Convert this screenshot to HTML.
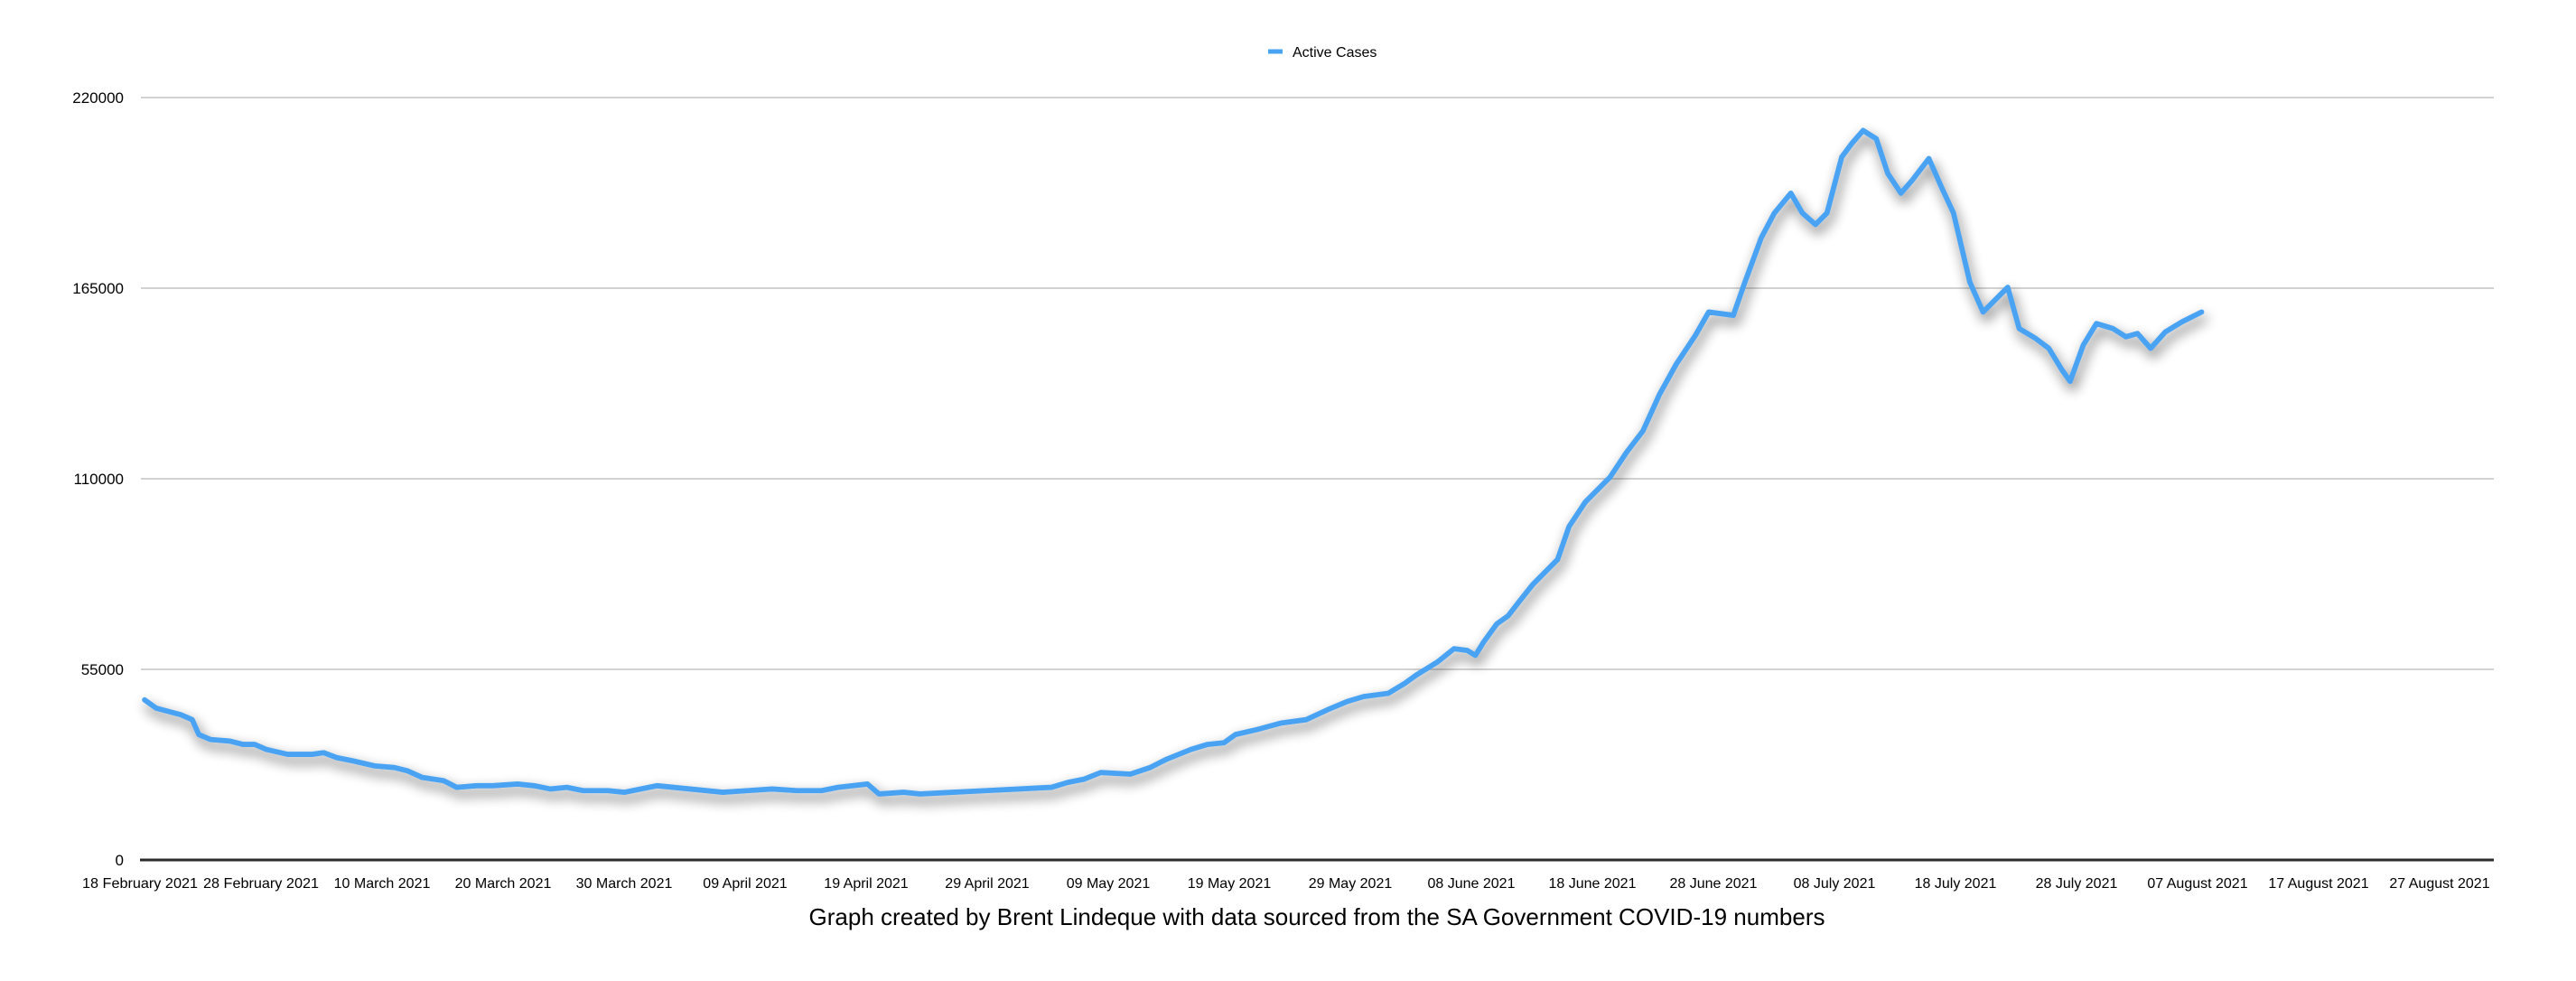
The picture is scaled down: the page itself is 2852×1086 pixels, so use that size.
<!DOCTYPE html>
<html><head><meta charset="utf-8"><style>
html,body{margin:0;padding:0;background:#fff;}
svg{display:block;font-family:"Liberation Sans",Arial,sans-serif;}
</style></head><body>
<svg width="2852" height="1086" viewBox="0 0 2852 1086" xmlns="http://www.w3.org/2000/svg">
<defs>
<filter id="sh" x="-10%" y="-10%" width="120%" height="130%">
<feGaussianBlur in="SourceAlpha" stdDeviation="7" result="b"/>
<feOffset in="b" dx="3" dy="7" result="o"/>
<feComponentTransfer in="o" result="c"><feFuncA type="linear" slope="0.6"/></feComponentTransfer>
<feMerge><feMergeNode in="c"/><feMergeNode in="SourceGraphic"/></feMerge>
</filter>
</defs>
<rect width="2852" height="1086" fill="#fff"/>
<g stroke="#d2d2d2" stroke-width="2">
<line x1="156" y1="108" x2="2761" y2="108"/>
<line x1="156" y1="319" x2="2761" y2="319"/>
<line x1="156" y1="530" x2="2761" y2="530"/>
<line x1="156" y1="741" x2="2761" y2="741"/>
</g>
<line x1="155" y1="952" x2="2761" y2="952" stroke="#2a2a2a" stroke-width="3"/>
<g font-size="17" fill="#000" text-anchor="end">
<text x="137" y="114">220000</text>
<text x="137" y="325">165000</text>
<text x="137" y="536">110000</text>
<text x="137" y="747">55000</text>
<text x="137" y="958">0</text>
</g>
<g font-size="16" fill="#000" text-anchor="middle">
<text x="155" y="983" textLength="128" lengthAdjust="spacingAndGlyphs">18 February 2021</text>
<text x="289" y="983" textLength="128" lengthAdjust="spacingAndGlyphs">28 February 2021</text>
<text x="423" y="983">10 March 2021</text>
<text x="557" y="983">20 March 2021</text>
<text x="691" y="983">30 March 2021</text>
<text x="825" y="983">09 April 2021</text>
<text x="959" y="983">19 April 2021</text>
<text x="1093" y="983">29 April 2021</text>
<text x="1227" y="983">09 May 2021</text>
<text x="1361" y="983">19 May 2021</text>
<text x="1495" y="983">29 May 2021</text>
<text x="1629" y="983">08 June 2021</text>
<text x="1763" y="983">18 June 2021</text>
<text x="1897" y="983">28 June 2021</text>
<text x="2031" y="983">08 July 2021</text>
<text x="2165" y="983">18 July 2021</text>
<text x="2299" y="983">28 July 2021</text>
<text x="2433" y="983">07 August 2021</text>
<text x="2567" y="983">17 August 2021</text>
<text x="2701" y="983">27 August 2021</text>
</g>
<line x1="1404" y1="57" x2="1420" y2="57" stroke="#4aa3f2" stroke-width="5"/>
<text x="1431" y="63" font-size="16" fill="#000">Active Cases</text>
<text x="1458" y="1024" font-size="26" fill="#000" text-anchor="middle" textLength="1125" lengthAdjust="spacingAndGlyphs">Graph created by Brent Lindeque with data sourced from the SA Government COVID-19 numbers</text>
<g filter="url(#sh)">
<polyline transform="matrix(1.819,0,0,1.827,0,-1.7)" fill="none" stroke="#4aa3f2" stroke-width="3.2" stroke-linejoin="round" stroke-linecap="round"
points="88,425 95,430 110,434 117,437 121,446 128,449 140,450 148,452 155,452 162,455 175,458 190,458 197,457 205,460 215,462 228,465 240,466 248,468 257,472 270,474 278,478 290,477 300,477 315,476 325,477 335,479 345,478 355,480 370,480 380,481 400,477 420,479 440,481 455,480 470,479 485,480 500,480 510,478 528,476 535,482 550,481 560,482 580,481 600,480 620,479 640,478 650,475 660,473 670,469 688,470 700,466 710,461 725,455 735,452 745,451 752,446 765,443 780,439 795,437 808,431 820,426 830,423 845,421 855,415 862,410 875,402 885,394 893,395 898,398 903,390 911,379 918,374 925,365 933,355 940,348 948,340 955,320 965,305 975,295 980,290 990,275 1000,262 1010,240 1020,222 1032,204 1040,190 1055,192 1062,172 1072,145 1080,130 1090,118 1097,130 1105,137 1112,130 1121,96 1127,88 1134,80 1142,85 1149,106 1157,118 1164,110 1174,97 1182,115 1189,130 1199,172 1207,190 1215,182 1222,175 1229,200 1239,206 1247,212 1255,225 1260,232 1268,210 1276,197 1286,200 1294,205 1301,203 1309,212 1318,202 1328,196 1340,190"/>
</g>
</svg>
</body></html>
